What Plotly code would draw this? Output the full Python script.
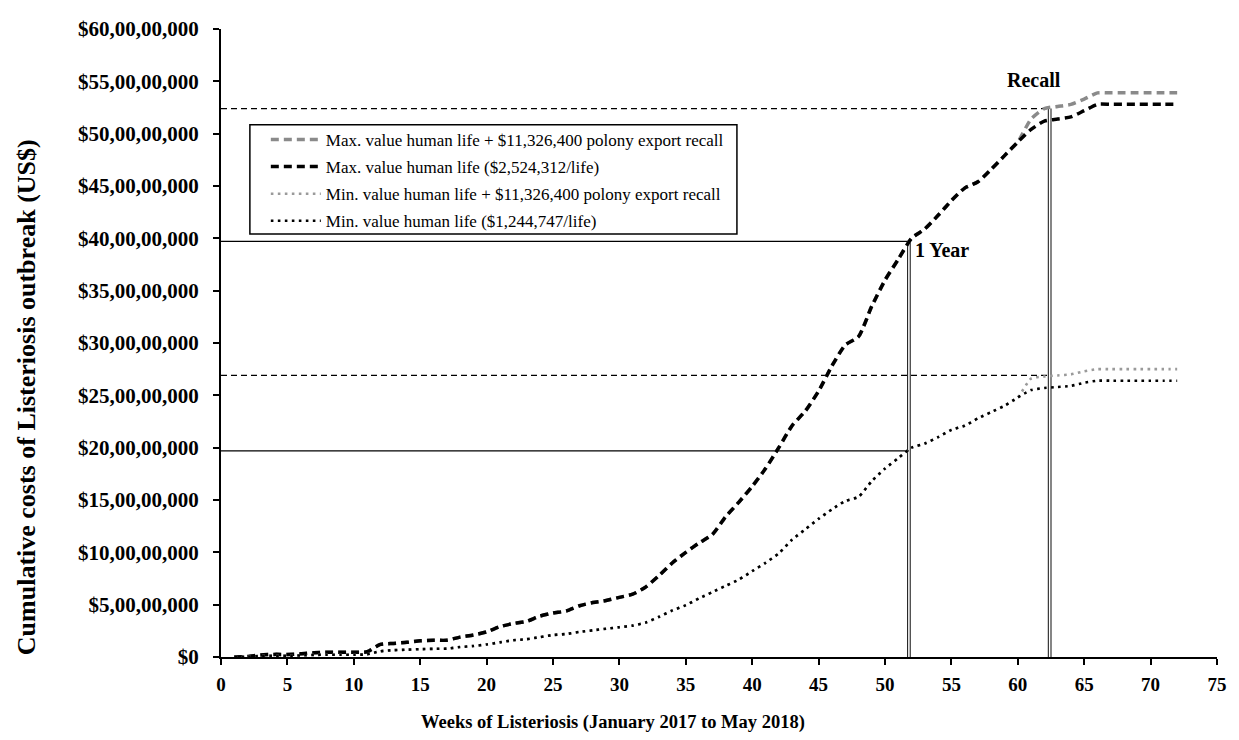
import plotly.graph_objects as go

# ---------------- data (values in US$ crore = 1e7) ----------------
weeks = list(range(1, 73))

max_life = [0, 0.05, 0.2, 0.25, 0.25, 0.3, 0.4, 0.45, 0.45, 0.45,
            0.5, 1.2, 1.3, 1.4, 1.55, 1.6, 1.6, 1.9, 2.1, 2.4,
            2.9, 3.2, 3.4, 3.9, 4.2, 4.4, 4.9, 5.2, 5.4, 5.7,
            6.0, 6.7, 7.8, 9.0, 10.0, 10.9, 11.7, 13.4, 14.8, 16.3,
            18.0, 20.0, 22.1, 23.5, 25.4, 27.8, 29.8, 30.6, 33.5, 36.0,
            38.0, 40.0, 40.9, 42.2, 43.6, 44.8, 45.4, 46.6, 47.9, 49.2,
            50.4, 51.2, 51.4, 51.6, 52.2, 52.8, 52.8, 52.8, 52.8, 52.8,
            52.8, 52.8]

max_life_recall = max_life[:60] + [51.4, 52.4, 52.6, 52.8, 53.3, 53.9,
                                   53.9, 53.9, 53.9, 53.9, 53.9, 53.9]

min_life = [0, 0.02, 0.1, 0.12, 0.12, 0.15, 0.2, 0.22, 0.22, 0.22,
            0.25, 0.55, 0.65, 0.7, 0.75, 0.78, 0.8, 0.95, 1.05, 1.2,
            1.4, 1.6, 1.7, 1.9, 2.1, 2.2, 2.4, 2.55, 2.7, 2.85,
            3.0, 3.3, 3.85, 4.45, 4.95, 5.6, 6.2, 6.8, 7.4, 8.2,
            9.0, 9.9, 11.2, 12.2, 13.2, 14.1, 14.9, 15.3, 16.8, 18.0,
            19.0, 20.0, 20.4, 21.0, 21.7, 22.1, 22.8, 23.4, 24.0, 24.8,
            25.5, 25.7, 25.8, 25.9, 26.2, 26.4, 26.4, 26.4, 26.4, 26.4,
            26.4, 26.4]

min_life_recall = min_life[:60] + [26.6, 26.8, 26.9, 27.0, 27.3, 27.5,
                                   27.5, 27.5, 27.5, 27.5, 27.5, 27.5]

series_names = [
    "Max. value human life + $11,326,400 polony export recall",
    "Max. value human life ($2,524,312/life)",
    "Min. value human life + $11,326,400 polony export recall",
    "Min. value human life ($1,244,747/life)",
]

# reference markers (week, cost in crore)
one_year_week = 51.8
recall_week = 62.4
one_year_max = 39.7
one_year_min = 19.7
recall_max = 52.4
recall_min = 26.9

y_tickvals = [0, 5, 10, 15, 20, 25, 30, 35, 40, 45, 50, 55, 60]
y_ticktext = ["$0", "$5,00,00,000", "$10,00,00,000", "$15,00,00,000",
              "$20,00,00,000", "$25,00,00,000", "$30,00,00,000",
              "$35,00,00,000", "$40,00,00,000", "$45,00,00,000",
              "$50,00,00,000", "$55,00,00,000", "$60,00,00,000"]
x_tickvals = list(range(0, 76, 5))

CR = 1e7
FONT = "Liberation Serif"

fig = go.Figure()

styles = [
    dict(color="#8a8a8a", width=3.5, dash="8px,5px"),
    dict(color="black", width=3.5, dash="8px,5px"),
    dict(color="#9a9a9a", width=2.6, dash="2.6px,4.4px"),
    dict(color="black", width=2.6, dash="2.6px,4.4px"),
]
data = [max_life_recall, max_life, min_life_recall, min_life]
for i, (name, vals, st) in enumerate(zip(series_names, data, styles)):
    fig.add_trace(go.Scatter(
        x=weeks, y=[v * CR for v in vals], mode="lines", name=name,
        line=dict(shape="spline", smoothing=0.6, **st),
        legendgroup=f"g{i}",
    ))

shapes = []
# horizontal reference lines
for yv, wk, dash in [(one_year_max, one_year_week, "solid"),
                     (one_year_min, one_year_week, "solid"),
                     (recall_max, recall_week, "6px,4px"),
                     (recall_min, recall_week, "6px,4px")]:
    shapes.append(dict(type="line", xref="x", yref="y", x0=0, x1=wk,
                       y0=yv * CR, y1=yv * CR, layer="below",
                       line=dict(color="black", width=1.3, dash=dash)))
# vertical double lines
for wk, top in [(one_year_week, one_year_max), (recall_week, recall_max)]:
    for off in (-0.1, 0.1):
        shapes.append(dict(type="line", xref="x", yref="y", x0=wk + off,
                           x1=wk + off, y0=0, y1=top * CR, layer="below",
                           line=dict(color="#222", width=1.1)))
# legend box
shapes.append(dict(type="rect", xref="paper", yref="paper",
                   x0=0.029, x1=0.518, y0=0.6736, y1=0.8474,
                   line=dict(color="black", width=1.5),
                   fillcolor="rgba(0,0,0,0)", layer="above"))

annotations = [
    dict(text="<b>1 Year</b>", x=52.1, y=38.9 * CR, xref="x", yref="y",
         xanchor="left", yanchor="middle", showarrow=False,
         font=dict(family=FONT, size=20, color="black")),
    dict(text="<b>Recall</b>", x=61.2, y=55.1 * CR, xref="x", yref="y",
         xanchor="center", yanchor="middle", showarrow=False,
         font=dict(family=FONT, size=20, color="black")),
    dict(text="<b>Weeks of Listeriosis (January 2017 to May 2018)</b>",
         x=0.394, y=0, xref="paper", yref="paper", yshift=-65.5,
         xanchor="center", yanchor="middle", showarrow=False,
         font=dict(family=FONT, size=18.5, color="black")),
    dict(text="<b>Cumulative costs of Listeriosis outbreak (US$)</b>",
         x=0, y=0.4137, xref="paper", yref="paper", xshift=-195,
         textangle=-90, xanchor="center", yanchor="middle", showarrow=False,
         font=dict(family=FONT, size=26, color="black")),
]

fig.update_layout(
    width=1239, height=740,
    margin=dict(l=221, r=16, t=29, b=83, pad=0),
    paper_bgcolor="white", plot_bgcolor="white",
    font=dict(family=FONT, color="black"),
    shapes=shapes, annotations=annotations,
    showlegend=True,
    legend=dict(x=0.045, y=0.852, xanchor="left", yanchor="top",
                bgcolor="rgba(0,0,0,0)", borderwidth=0,
                font=dict(family=FONT, size=17, color="black"),
                tracegroupgap=2, itemwidth=50),
    xaxis=dict(range=[0, 75], tickvals=x_tickvals, showgrid=False,
               zeroline=False, showline=True, linecolor="black", linewidth=2,
               ticks="outside", ticklen=6, tickwidth=1.5, tickcolor="black",
               ticklabelstandoff=3,
               tickfont=dict(family=FONT, size=19, color="black", weight="bold")),
    yaxis=dict(range=[0, 60 * CR], tickvals=[v * CR for v in y_tickvals],
               ticktext=y_ticktext, showgrid=False, zeroline=False,
               showline=True, linecolor="black", linewidth=2,
               ticks="outside", ticklen=6, tickwidth=1.5, tickcolor="black",
               ticklabelstandoff=10,
               tickfont=dict(family=FONT, size=21, color="black", weight="bold")),
)

fig.write_html("out.html")
